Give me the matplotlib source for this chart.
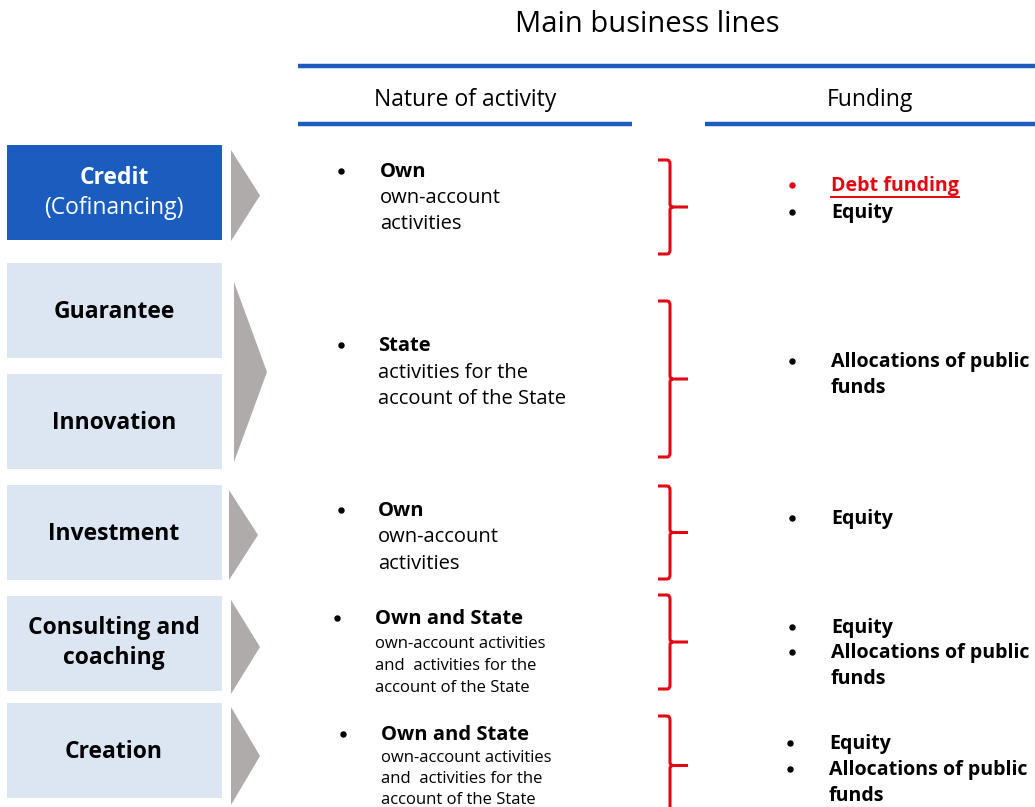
import matplotlib.pyplot as plt
from matplotlib.patches import Rectangle, Polygon
from matplotlib.path import Path
from matplotlib.patches import PathPatch

plt.rcParams['font.family'] = ['Open Sans', 'DejaVu Sans']

# business lines (left boxes)
lines = [["Credit", "(Cofinancing)"], ["Guarantee"], ["Innovation"], ["Investment"],
         ["Consulting and", "coaching"], ["Creation"]]
# nature of activity per group
nature_head = ["Own", "State", "Own", "Own and State", "Own and State"]
nature_desc = [["own-account", "activities"],
               ["activities for the", "account of the State"],
               ["own-account", "activities"],
               ["own-account activities", "and  activities for the", "account of the State"],
               ["own-account activities", "and  activities for the", "account of the State"]]
# funding per group
funding = [["Debt funding", "Equity"],
           ["Allocations of public\nfunds"],
           ["Equity"],
           ["Equity", "Allocations of public\nfunds"],
           ["Equity", "Allocations of public\nfunds"]]

BLUE = "#1A5DBE"
LIGHT = "#DCE6F2"
GREY = "#AFABAB"
RED = "#E30613"

fig = plt.figure(figsize=(10.35, 8.07), dpi=100)
ax = fig.add_axes([0, 0, 1, 1])
ax.set_xlim(0, 1035)
ax.set_ylim(807, 0)
ax.axis("off")

# header
ax.text(647, 25, "Main business lines", ha="center", va="center", fontsize=21)
ax.plot([298, 1035], [66, 66], color=BLUE, lw=3.2, solid_capstyle="butt")
ax.text(465, 100, "Nature of activity", ha="center", va="center", fontsize=16.5)
ax.text(870, 100, "Funding", ha="center", va="center", fontsize=16.5)
ax.plot([298, 632], [124, 124], color=BLUE, lw=3.2, solid_capstyle="butt")
ax.plot([705, 1035], [124, 124], color=BLUE, lw=3.2, solid_capstyle="butt")

# left boxes
box_top = [145, 263, 374, 485, 596, 703]
for i, (lab, y0) in enumerate(zip(lines, box_top)):
    fc = BLUE if i == 0 else LIGHT
    ax.add_patch(Rectangle((7, y0), 215, 95, fc=fc, ec="none"))
    yc = y0 + 49
    if len(lab) == 1:
        ax.text(114, yc, lab[0], ha="center", va="center", fontsize=16.5, weight="bold")
    elif i == 0:
        ax.text(114, yc - 16, lab[0], ha="center", va="center", fontsize=16.5,
                weight="bold", color="white")
        ax.text(114, yc + 14, lab[1], ha="center", va="center", fontsize=16.5, color="white")
    else:
        ax.text(114, yc - 17, lab[0], ha="center", va="center", fontsize=16.5, weight="bold")
        ax.text(114, yc + 13, lab[1], ha="center", va="center", fontsize=16.5, weight="bold")

# grey arrows (x_left, top, bottom, tip_x)
arrows = [(231, 150, 241, 260), (234, 282, 462, 267), (229, 490, 580, 258),
          (231, 600, 694, 260), (231, 707, 805, 260)]
for xl, t, b, xt in arrows:
    ax.add_patch(Polygon([(xl, t), (xt, (t + b) / 2), (xl, b)], closed=True, fc=GREY, ec="none"))

# nature of activity text (bullet x, text x, y, line step, desc font size)
nat_pos = [(341, 380, 172, 26, 14.5), (341, 378, 346, 26.5, 14.5), (341, 378, 511, 26.5, 14.5),
           (337, 375, 619, 22.5, 12), (343, 381, 735, 21, 12)]
for (bx, tx, y, dy, fs), head, desc in zip(nat_pos, nature_head, nature_desc):
    ax.plot(bx, y - 1, "o", ms=3.6, color="black")
    ax.text(tx, y, head, ha="left", va="center", fontsize=14.5, weight="bold")
    off = 0 if fs > 13 else 2
    for k, d in enumerate(desc):
        ax.text(tx, y + (k + 1) * dy + off, d, ha="left", va="center", fontsize=fs)

# red braces (top, bottom)
braces = [(160, 254), (301, 457), (486, 579), (595, 689), (716, 815)]
for t, b in braces:
    m = (t + b) / 2
    verts = [(658, t), (667, t), (670, t), (670, t + 4), (670, m - 3), (670, m), (673, m), (688, m),
             (673, m), (670, m), (670, m + 3), (670, b - 4), (670, b), (667, b), (658, b)]
    codes = [Path.MOVETO, Path.LINETO, Path.CURVE3, Path.CURVE3, Path.LINETO, Path.CURVE3, Path.CURVE3,
             Path.LINETO, Path.MOVETO, Path.CURVE3, Path.CURVE3, Path.LINETO, Path.CURVE3, Path.CURVE3,
             Path.LINETO]
    ax.add_patch(PathPatch(Path(verts, codes), fc="none", ec=RED, lw=2.2))

# funding text (bullet x, text x, first y, item step)
fund_pos = [(792, 831, 186, 27), (792, 831, 362, 27), (792, 831, 519, 27),
            (792, 831, 628, 25), (790, 829, 744, 26)]
underline = None
for (bx, tx, y, dy), items in zip(fund_pos, funding):
    for k, it in enumerate(items):
        col = RED if it == "Debt funding" else "black"
        yy = y + k * dy
        ax.plot(bx, yy - 1, "o", ms=3.6, color=col)
        for j, part in enumerate(it.split("\n")):
            t = ax.text(tx, yy + j * 26, part, ha="left", va="center",
                        fontsize=14.1, weight="bold", color=col)
            if part == "Debt funding":
                underline = t

fig.canvas.draw()
bb = underline.get_window_extent().transformed(ax.transData.inverted())
ax.plot([bb.x0, bb.x1], [197, 197], color=RED, lw=1.4)

fig.savefig("out.png", dpi=100)
